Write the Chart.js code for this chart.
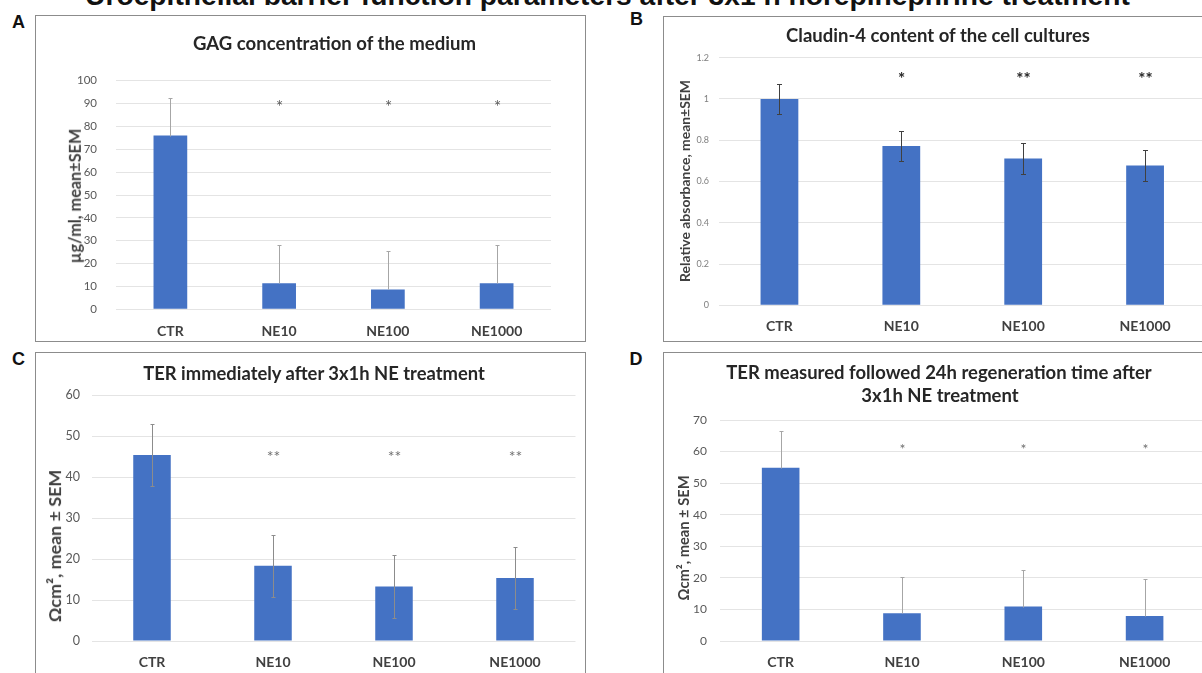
<!DOCTYPE html>
<html>
<head>
<meta charset="utf-8">
<script src="https://cdn.jsdelivr.net/npm/chart.js@4.4.1/dist/chart.umd.min.js"></script>
<style>
html, body { margin: 0; padding: 0; background: #fff; }
body { width: 1202px; height: 673px; overflow: hidden; position: relative; font-family: Lato, sans-serif; }
.box { position: absolute; border: 1px solid #8c8c8c; box-sizing: border-box; background: #fff; }
canvas { position: absolute; }
.lbl { position: absolute; white-space: nowrap; line-height: 1; }
</style>
</head>
<body>
<div class="box" style="left:35px;top:15px;width:551px;height:327px"></div>
<div class="box" style="left:663px;top:16px;width:560px;height:326px"></div>
<div class="box" style="left:35px;top:352px;width:551px;height:340px"></div>
<div class="box" style="left:663px;top:352px;width:560px;height:340px"></div>
<canvas id="chartA" width="548" height="324" style="left:36px;top:16px"></canvas>
<canvas id="chartB" width="556" height="323" style="left:664px;top:17px"></canvas>
<canvas id="chartC" width="548" height="320" style="left:36px;top:353px"></canvas>
<canvas id="chartD" width="556" height="320" style="left:664px;top:353px"></canvas>
<script>
// nhóm điều trị
var categories = ['CTR', 'NE10', 'NE100', 'NE1000'];

// A - GAG
var gagMean = [76, 11.4, 8.7, 11.4];
var gagSem = [16.6, 16.6, 16.7, 16.6];
var gagSig = ['', '*', '*', '*'];
var gagSigLevel = 90.4;
var gagTicks = ['0', '10', '20', '30', '40', '50', '60', '70', '80', '90', '100'];

// B - Claudin-4
var cldMean = [1.0, 0.772, 0.711, 0.677];
var cldSem = [0.073, 0.074, 0.074, 0.074];
var cldSig = ['', '*', '**', '**'];
var cldSigLevel = 1.116;
var cldTicks = ['0', '0.2', '0.4', '0.6', '0.8', '1', '1.2'];

// C - TER ngay sau
var terMean = [45.4, 18.4, 13.3, 15.4];
var terSem = [7.5, 7.6, 7.7, 7.6];
var terSig = ['', '**', '**', '**'];
var terSigLevel = 46;
var terTicks = ['0', '10', '20', '30', '40', '50', '60'];

// D - TER sau 24h
var ter24Mean = [54.9, 8.8, 10.9, 7.9];
var ter24Sem = [11.7, 11.6, 11.6, 11.6];
var ter24Sig = ['', '*', '*', '*'];
var ter24SigLevel = 61.8;
var ter24Ticks = ['0', '10', '20', '30', '40', '50', '60', '70'];

var figureTitle = 'Uroepithelial barrier function parameters after 3x1 h norepinephrine treatment';

// error bars + dấu sao
var extras = {
	id: 'extras',
	afterDatasetsDraw(chart, args, o) {
		var ctx = chart.ctx;
		var y = chart.scales.y;
		var meta = chart.getDatasetMeta(0);
		var vals = chart.data.datasets[0].data;
		ctx.save();
		ctx.strokeStyle = o.errColor;
		ctx.lineWidth = 1;
		vals.forEach((v, i) => {
			var cx = Math.round(meta.data[i].x) + 0.5;
			var top = Math.round(y.getPixelForValue(v + o.sem[i])) + 0.5;
			var bot = Math.round(y.getPixelForValue(o.upperOnly ? v : v - o.sem[i])) + 0.5;
			ctx.beginPath();
			ctx.moveTo(cx, top);
			ctx.lineTo(cx, bot);
			ctx.moveTo(cx - o.cap, top);
			ctx.lineTo(cx + o.cap, top);
			if (!o.upperOnly) {
				ctx.moveTo(cx - o.cap, bot);
				ctx.lineTo(cx + o.cap, bot);
			}
			ctx.stroke();
			if (o.sig[i]) {
				ctx.fillStyle = o.sigColor;
				ctx.font = (o.sigWeight || 'normal') + ' ' + o.sigSize + 'px Lato';
				ctx.textAlign = 'center';
				ctx.textBaseline = 'alphabetic';
				ctx.fillText(o.sig[i], cx, y.getPixelForValue(o.sigLevel) + 0.58 * o.sigSize);
			}
		});
		ctx.restore();
	}
};

function veBieuDo(id, mean, p) {
	var canvas = document.getElementById(id);
	return new Chart(canvas.getContext('2d'), {
		type: 'bar',
		data: {
			labels: categories,
			datasets: [{
				data: mean,
				backgroundColor: '#4472C4',
				borderWidth: 0,
				categoryPercentage: 1,
				barPercentage: 0.31
			}]
		},
		options: {
			responsive: false,
			animation: false,
			events: [],
			layout: { padding: { left: 0, right: p.padRight, top: p.padTop, bottom: 0 } },
			plugins: {
				legend: { display: false },
				tooltip: { enabled: false },
				extras: p.extras
			},
			scales: {
				x: {
					grid: { display: false, drawTicks: false },
					border: { display: false },
					ticks: { color: '#404040', padding: p.xPad, font: { family: 'Lato', size: 14, weight: 'bold' } },
					afterFit: s => { s.height = p.xH; }
				},
				y: {
					min: 0,
					max: p.max,
					grid: { color: '#e4e4e4', drawTicks: false },
					border: { display: false },
					ticks: {
						stepSize: p.step,
						color: p.tickColor || '#595959',
						padding: p.yPad,
						font: { family: 'Lato', size: p.tickSize },
						callback: (v, i) => p.tickLabels[i]
					},
					afterFit: s => { s.width = p.yW; }
				}
			}
		},
		plugins: [extras]
	});
}

veBieuDo('chartA', gagMean, {
	max: 100, step: 10, tickLabels: gagTicks, tickSize: 11.5,
	yW: 80, yPad: 19, xH: 30.7, xPad: 14, padTop: 64.7, padRight: 33,
	extras: { sem: gagSem, upperOnly: true, errColor: '#a6a6a6', cap: 2, sig: gagSig, sigLevel: gagSigLevel, sigSize: 17, sigColor: '#595959' }
});
veBieuDo('chartB', cldMean, {
	max: 1.2, step: 0.2, tickLabels: cldTicks, tickSize: 9, tickColor: '#7f7f7f',
	yW: 54.5, yPad: 9.5, xH: 34.7, xPad: 13, padTop: 40.7, padRight: 14,
	extras: { sem: cldSem, upperOnly: false, errColor: '#404040', cap: 2.5, sig: cldSig, sigLevel: cldSigLevel, sigSize: 17, sigWeight: 'bold', sigColor: '#262626' }
});
veBieuDo('chartC', terMean, {
	max: 60, step: 10, tickLabels: terTicks, tickSize: 12.5,
	yW: 55.5, yPad: 11.5, xH: 32, xPad: 13.3, padTop: 42.3, padRight: 8.5,
	extras: { sem: terSem, upperOnly: false, errColor: '#8c8c8c', cap: 2, sig: terSig, sigLevel: terSigLevel, sigSize: 16, sigColor: '#6f6f6f' }
});
veBieuDo('chartD', ter24Mean, {
	max: 70, step: 10, tickLabels: ter24Ticks, tickSize: 12,
	yW: 56, yPad: 13, xH: 32, xPad: 13.3, padTop: 67, padRight: 14.75,
	extras: { sem: ter24Sem, upperOnly: true, errColor: '#a6a6a6', cap: 2, sig: ter24Sig, sigLevel: ter24SigLevel, sigSize: 14, sigColor: '#6f6f6f' }
});

// chữ: tiêu đề, nhãn trục, chữ cái panel
function datChu(text, cx, cy, o) {
	var el = document.createElement('div');
	el.className = 'lbl';
	el.textContent = text;
	el.style.fontFamily = o.family || 'Lato';
	el.style.fontWeight = 'bold';
	el.style.fontSize = '20px';
	el.style.color = o.color || '#222';
	document.body.appendChild(el);
	var size = o.size || 20 * o.width / el.offsetWidth;
	el.style.fontSize = size + 'px';
	if (o.baseline != null) cy = o.baseline - 0.8465 * size + size / 2;
	el.style.left = cx + 'px';
	el.style.top = cy + 'px';
	el.style.transform = 'translate(-50%,-50%)' + (o.rotate ? ' rotate(-90deg)' : '');
	return size;
}

datChu(figureTitle, 607.5, 0, { width: 1045, baseline: 5, family: 'Liberation Sans', color: '#111' });

datChu('A', 18.5, 22, { size: 18, family: 'Liberation Sans', color: '#111' });
datChu('B', 636.5, 19, { size: 18, family: 'Liberation Sans', color: '#111' });
datChu('C', 18.5, 358.5, { size: 18, family: 'Liberation Sans', color: '#111' });
datChu('D', 636, 359, { size: 18, family: 'Liberation Sans', color: '#111' });

datChu('GAG concentration of the medium', 334.5, 43, { width: 283, color: '#262626' });
datChu('Claudin-4 content of the cell cultures', 938, 35, { width: 304, color: '#262626' });
datChu('TER immediately after 3x1h NE treatment', 314, 373, { width: 342, color: '#262626' });
var dSize = datChu('TER measured followed 24h regeneration time after', 939, 372, { width: 426, color: '#262626' });
datChu('3x1h NE treatment', 940, 395, { size: dSize, color: '#262626' });

datChu('µg/ml, mean±SEM', 75, 195.5, { width: 135, rotate: true, color: '#404040' });
datChu('Relative absorbance, mean±SEM', 685, 181, { width: 202, rotate: true, color: '#404040' });
datChu('Ωcm², mean ± SEM', 55, 546, { width: 152, rotate: true, color: '#404040' });
datChu('Ωcm², mean ± SEM', 683, 537.5, { width: 125, rotate: true, color: '#404040' });
</script>
</body>
</html>
